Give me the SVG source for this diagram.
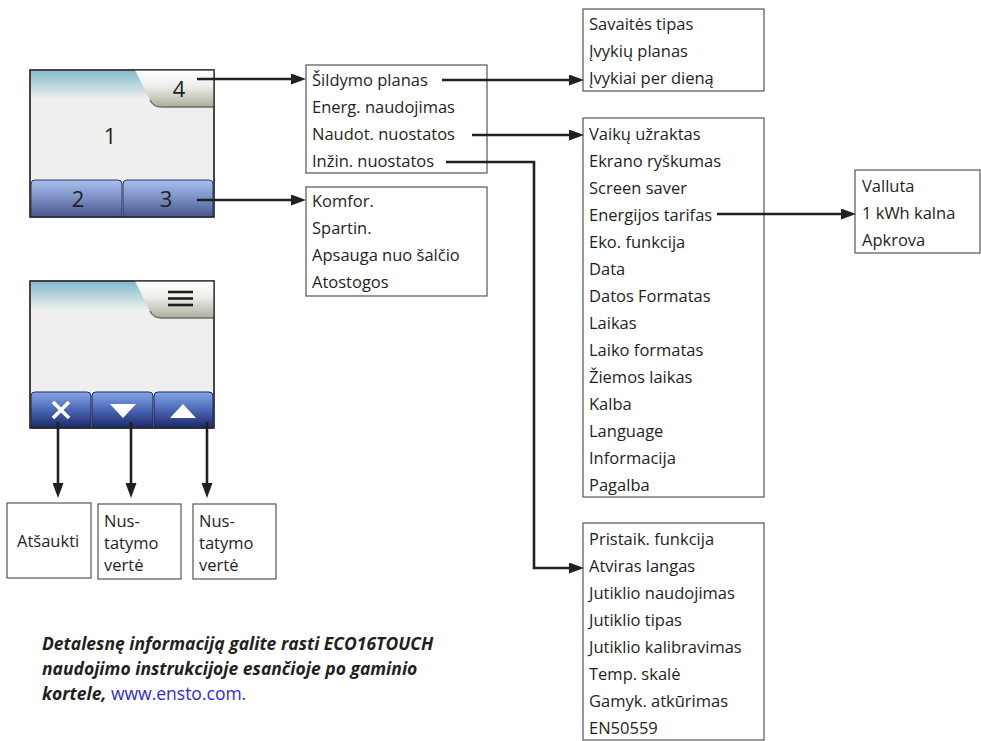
<svg xmlns="http://www.w3.org/2000/svg" width="981" height="741" viewBox="0 0 981 741">
<defs>
  <style>
    .t { font-family: "Open Sans", "Liberation Sans", sans-serif; font-size: 16.5px; fill: #231f20; }
    .num { font-family: "Open Sans", "Liberation Sans", sans-serif; font-size: 22px; fill: #231f20; text-anchor: middle; }
    .box { fill: #ffffff; stroke: #555555; stroke-width: 1.2; }
    .dev { fill: #efefef; stroke: #2b2b2b; stroke-width: 1.3; }
    .con { fill: none; stroke: #231f20; stroke-width: 2.6; marker-end: url(#ah); }
    .foot { font-family: "Open Sans", "Liberation Sans", sans-serif; font-size: 17.5px; font-weight: bold; font-style: italic; fill: #231f20; }
    .link { font-weight: normal; font-style: normal; fill: #2b2bdc; }
  </style>
  <marker id="ah" viewBox="0 0 15 11" refX="0" refY="5.5" markerWidth="15" markerHeight="11" markerUnits="userSpaceOnUse" orient="auto">
    <path d="M0,0 L15,5.5 L0,11 Z" fill="#231f20"/>
  </marker>
  <linearGradient id="sky" x1="0" y1="0" x2="0" y2="1">
    <stop offset="0" stop-color="#86bccd"/>
    <stop offset="1" stop-color="#efefef"/>
  </linearGradient>
  <linearGradient id="tab" x1="0" y1="0" x2="0" y2="1">
    <stop offset="0" stop-color="#ffffff"/>
    <stop offset="0.45" stop-color="#ededea"/>
    <stop offset="1" stop-color="#adad9b"/>
  </linearGradient>
  <linearGradient id="btn1" x1="0" y1="0" x2="0" y2="1">
    <stop offset="0" stop-color="#a9c0ee"/>
    <stop offset="0.5" stop-color="#7a8fc4"/>
    <stop offset="1" stop-color="#47558a"/>
  </linearGradient>
  <linearGradient id="btn2" x1="0" y1="0" x2="0" y2="1">
    <stop offset="0" stop-color="#86a6e6"/>
    <stop offset="0.5" stop-color="#4a66b4"/>
    <stop offset="1" stop-color="#1b2868"/>
  </linearGradient>
</defs>

<!-- thermostat screen: main view -->
<g id="screen-main">
  <rect class="dev" x="30" y="70" width="184" height="147"/>
  <rect x="31" y="71" width="120" height="28" fill="url(#sky)"/>
  <path d="M135,70 L214,70 L214,107 L162,107 Q153,107 150,100 Z" fill="url(#tab)"/>
  <path d="M150,100 Q153,107 162,107 L214,107" fill="none" stroke="#6d6d66" stroke-width="1.4"/>
  <text class="num" x="179" y="97">4</text>
  <text class="num" x="110" y="144">1</text>
  <path d="M31,217 V184 Q31,180 35,180 H118 Q122,180 122,184 V217 Z" fill="url(#btn1)" stroke="#2c3767" stroke-width="1"/>
  <path d="M123,217 V184 Q123,180 127,180 H209 Q213,180 213,184 V217 Z" fill="url(#btn1)" stroke="#2c3767" stroke-width="1"/>
  <text class="num" x="78" y="207">2</text>
  <text class="num" x="166" y="207">3</text>
  <rect x="30" y="70" width="184" height="147" fill="none" stroke="#2b2b2b" stroke-width="1.3"/>
</g>

<!-- thermostat screen: edit view -->
<g id="screen-edit">
  <rect class="dev" x="30" y="281" width="184" height="147"/>
  <rect x="31" y="282" width="120" height="28" fill="url(#sky)"/>
  <path d="M135,281 L214,281 L214,318 L162,318 Q153,318 150,311 Z" fill="url(#tab)"/>
  <path d="M150,311 Q153,318 162,318 L214,318" fill="none" stroke="#6d6d66" stroke-width="1.4"/>
  <g stroke="#1e1e1e" stroke-width="2.6">
    <line x1="168" y1="292" x2="193" y2="292"/>
    <line x1="168" y1="298.5" x2="193" y2="298.5"/>
    <line x1="168" y1="305" x2="193" y2="305"/>
  </g>
  <path d="M31,428 V396 Q31,392 35,392 H87 Q91,392 91,396 V428 Z" fill="url(#btn2)" stroke="#1c2757" stroke-width="1"/>
  <path d="M92,428 V396 Q92,392 96,392 H149 Q153,392 153,396 V428 Z" fill="url(#btn2)" stroke="#1c2757" stroke-width="1"/>
  <path d="M154,428 V396 Q154,392 158,392 H209 Q213,392 213,396 V428 Z" fill="url(#btn2)" stroke="#1c2757" stroke-width="1"/>
  <path d="M53,402 L69,418 M69,402 L53,418" stroke="#ffffff" stroke-width="3.6"/>
  <path d="M110,404 L136,404 L123,418 Z" fill="#ffffff"/>
  <path d="M170,418 L196,418 L183,404 Z" fill="#ffffff"/>
  <rect x="30" y="281" width="184" height="147" fill="none" stroke="#2b2b2b" stroke-width="1.3"/>
</g>

<!-- menus -->
<g id="menu-main">
  <rect class="box" x="306" y="65" width="181" height="108"/>
  <text class="t" x="312" y="86">Šildymo planas</text>
  <text class="t" x="312" y="113">Energ. naudojimas</text>
  <text class="t" x="312" y="140">Naudot. nuostatos</text>
  <text class="t" x="312" y="167">Inžin. nuostatos</text>
</g>

<g id="menu-modes">
  <rect class="box" x="306" y="187" width="181" height="109"/>
  <text class="t" x="312" y="207">Komfor.</text>
  <text class="t" x="312" y="234">Spartin.</text>
  <text class="t" x="312" y="261">Apsauga nuo šalčio</text>
  <text class="t" x="312" y="288">Atostogos</text>
</g>

<g id="menu-schedule">
  <rect class="box" x="583" y="9" width="181" height="82"/>
  <text class="t" x="589" y="30">Savaitės tipas</text>
  <text class="t" x="589" y="57">Įvykių planas</text>
  <text class="t" x="589" y="84">Įvykiai per dieną</text>
</g>

<g id="menu-user">
  <rect class="box" x="583" y="118" width="181" height="379"/>
  <text class="t" x="589" y="140">Vaikų užraktas</text>
  <text class="t" x="589" y="167">Ekrano ryškumas</text>
  <text class="t" x="589" y="194">Screen saver</text>
  <text class="t" x="589" y="221">Energijos tarifas</text>
  <text class="t" x="589" y="248">Eko. funkcija</text>
  <text class="t" x="589" y="275">Data</text>
  <text class="t" x="589" y="302">Datos Formatas</text>
  <text class="t" x="589" y="329">Laikas</text>
  <text class="t" x="589" y="356">Laiko formatas</text>
  <text class="t" x="589" y="383">Žiemos laikas</text>
  <text class="t" x="589" y="410">Kalba</text>
  <text class="t" x="589" y="437">Language</text>
  <text class="t" x="589" y="464">Informacija</text>
  <text class="t" x="589" y="491">Pagalba</text>
</g>

<g id="menu-tariff">
  <rect class="box" x="855" y="170" width="125" height="83"/>
  <text class="t" x="862" y="192">Valluta</text>
  <text class="t" x="862" y="219">1 kWh kalna</text>
  <text class="t" x="862" y="246">Apkrova</text>
</g>

<g id="menu-install">
  <rect class="box" x="583" y="523" width="181" height="217"/>
  <text class="t" x="589" y="545">Pristaik. funkcija</text>
  <text class="t" x="589" y="572">Atviras langas</text>
  <text class="t" x="589" y="599">Jutiklio naudojimas</text>
  <text class="t" x="589" y="626">Jutiklio tipas</text>
  <text class="t" x="589" y="653">Jutiklio kalibravimas</text>
  <text class="t" x="589" y="680">Temp. skalė</text>
  <text class="t" x="589" y="707">Gamyk. atkūrimas</text>
  <text class="t" x="589" y="734">EN50559</text>
</g>

<g id="key-cancel">
  <rect class="box" x="7" y="503" width="84" height="75"/>
  <text class="t" x="17" y="547">Atšaukti</text>
</g>

<g id="key-down">
  <rect class="box" x="98" y="504" width="83" height="75"/>
  <text class="t" x="104" y="527">Nus-</text>
  <text class="t" x="104" y="549">tatymo</text>
  <text class="t" x="104" y="571">vertė</text>
</g>

<g id="key-up">
  <rect class="box" x="193" y="504" width="83" height="75"/>
  <text class="t" x="199" y="527">Nus-</text>
  <text class="t" x="199" y="549">tatymo</text>
  <text class="t" x="199" y="571">vertė</text>
</g>

<!-- connectors -->
<g id="connectors">
  <path class="con" d="M197,79 H291"/>
  <path class="con" d="M197,200 H291"/>
  <path class="con" d="M442,80 H569"/>
  <path class="con" d="M472,135 H569"/>
  <path class="con" d="M446,162 H534 V568 H569"/>
  <path class="con" d="M717,214 H841"/>
  <path class="con" d="M58,422 V483"/>
  <path class="con" d="M131,422 V483"/>
  <path class="con" d="M207,422 V483"/>
</g>

<!-- footnote -->
<g id="footnote">
  <text class="foot" x="42" y="650">Detalesnę informaciją galite rasti ECO16TOUCH</text>
  <text class="foot" x="42" y="675">naudojimo instrukcijoje esančioje po gaminio</text>
  <text class="foot" x="42" y="700">kortele, <tspan class="link">www.ensto.com.</tspan></text>
</g>
</svg>
